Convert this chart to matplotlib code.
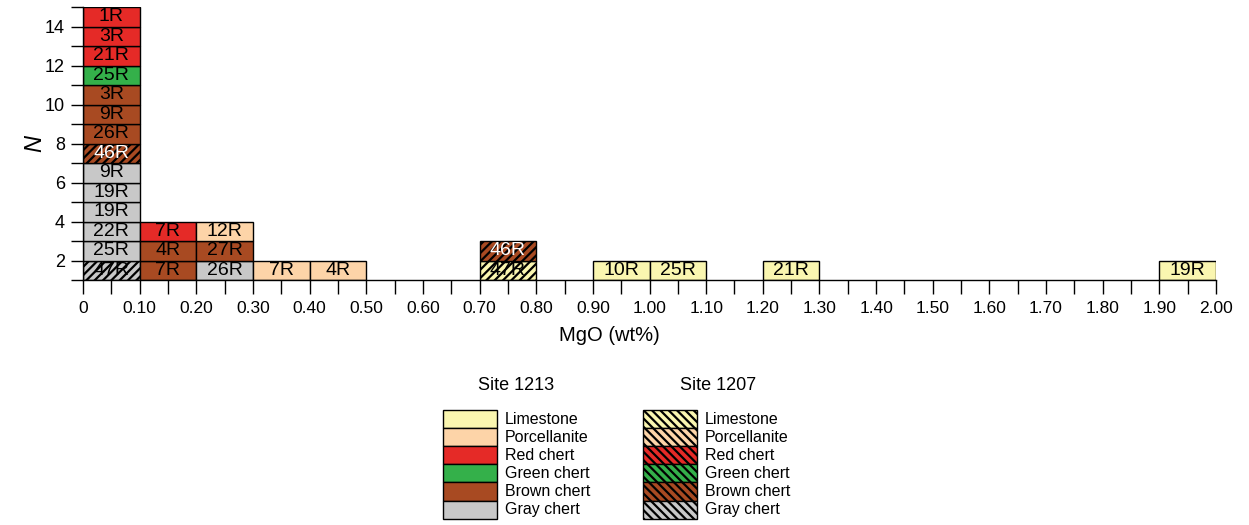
import matplotlib.pyplot as plt
from matplotlib.patches import Rectangle

plt.rcParams['font.family'] = ['Liberation Sans', 'DejaVu Sans']
plt.rcParams['hatch.linewidth'] = 1.6

lithologies = ['Limestone', 'Porcellanite', 'Red chert', 'Green chert', 'Brown chert', 'Gray chert']
lith_colors = ['#FAF6B0', '#FDD4A8', '#E52A27', '#34B04A', '#A84A22', '#C8C8C8']
sites = [1213, 1207]

# one entry per sample, stacked from the bottom inside each 0.1 wt% bin
cell_bin = [0.0] * 14 + [0.1] * 3 + [0.2] * 3 + [0.3, 0.4, 0.7, 0.7, 0.9, 1.0, 1.2, 1.9]
cell_core = ['47R', '25R', '22R', '19R', '19R', '9R', '46R', '26R', '9R', '3R', '25R', '21R', '3R', '1R',
             '7R', '4R', '7R',
             '26R', '27R', '12R',
             '7R', '4R',
             '47R', '46R',
             '10R', '25R', '21R', '19R']
cell_lith = (['Gray chert'] * 6 + ['Brown chert'] * 4 + ['Green chert'] + ['Red chert'] * 3
             + ['Brown chert', 'Brown chert', 'Red chert']
             + ['Gray chert', 'Brown chert', 'Porcellanite']
             + ['Porcellanite'] * 2
             + ['Limestone', 'Brown chert']
             + ['Limestone'] * 4)
cell_site = ([1207] + [1213] * 5 + [1207] + [1213] * 7
             + [1213] * 3 + [1213] * 3 + [1213] * 2
             + [1207, 1207] + [1213] * 4)

xticks = [i / 10 for i in range(21)]
xtick_labels = ['0'] + ['%.2f' % v for v in xticks[1:]]
yticks = list(range(1, 16))
ytick_labels = [str(v) if v % 2 == 0 else '' for v in yticks]

fig = plt.figure(figsize=(12.49, 5.25), dpi=100)
ax = fig.add_axes([83 / 1249, 1 - 280 / 525, 1133 / 1249, 273 / 525])

counts = {}
for b, core, lith, site in zip(cell_bin, cell_core, cell_lith, cell_site):
    key = round(b, 2)
    level = 1 + counts.get(key, 0)
    counts[key] = counts.get(key, 0) + 1
    col = lith_colors[lithologies.index(lith)]
    ax.bar(b, 1, bottom=level, width=0.1, align='edge', color=col, edgecolor='black',
           linewidth=1, hatch='////' if site == 1207 else None, zorder=2)
    tc = 'white' if (site == 1207 and lith == 'Brown chert') else 'black'
    ax.text(b + 0.05, level + 0.5, core, ha='center', va='center', fontsize=14, color=tc, zorder=3)

ax.set_xlim(0, 2)
ax.set_ylim(1, 15)
ax.set_xticks(xticks)
ax.set_xticklabels(xtick_labels)
ax.set_xticks([v + 0.05 for v in xticks[:-1]], minor=True)
ax.set_yticks(yticks)
ax.set_yticklabels(ytick_labels)
ax.tick_params(axis='x', which='both', direction='out', length=10, width=1, pad=5, labelsize=12.5)
ax.tick_params(axis='y', direction='out', length=9, width=1, pad=4, labelsize=13)
for s in ['top', 'right']:
    ax.spines[s].set_visible(False)
for s in ['left', 'bottom']:
    ax.spines[s].set_linewidth(1)

ax.set_xlabel('MgO (wt%)', fontsize=14.5)
ax.xaxis.set_label_coords(0.465, -0.17)
ax.set_ylabel('N', fontsize=17, style='italic')
ax.yaxis.set_label_coords(-0.032, 0.5)

# legend drawn in pixel coordinates
lax = fig.add_axes([0, 0, 1, 1])
lax.set_xlim(0, 1249)
lax.set_ylim(525, 0)
lax.axis('off')
box_x = [443, 643]
title_x = [516, 718]
row_h = 18.1
for k, site in enumerate(sites):
    lax.text(title_x[k], 386, 'Site %d' % site, ha='center', va='center', fontsize=13)
    for i, lith in enumerate(lithologies):
        y0 = 410 + i * row_h
        lax.add_patch(Rectangle((box_x[k], y0), 54, row_h, facecolor=lith_colors[i], edgecolor='black',
                                linewidth=1, hatch='\\\\\\\\' if site == 1207 else None))
        lax.text(box_x[k] + 62, y0 + row_h / 2, lith, ha='left', va='center', fontsize=11.5)

fig.savefig('out.png', dpi=100)
